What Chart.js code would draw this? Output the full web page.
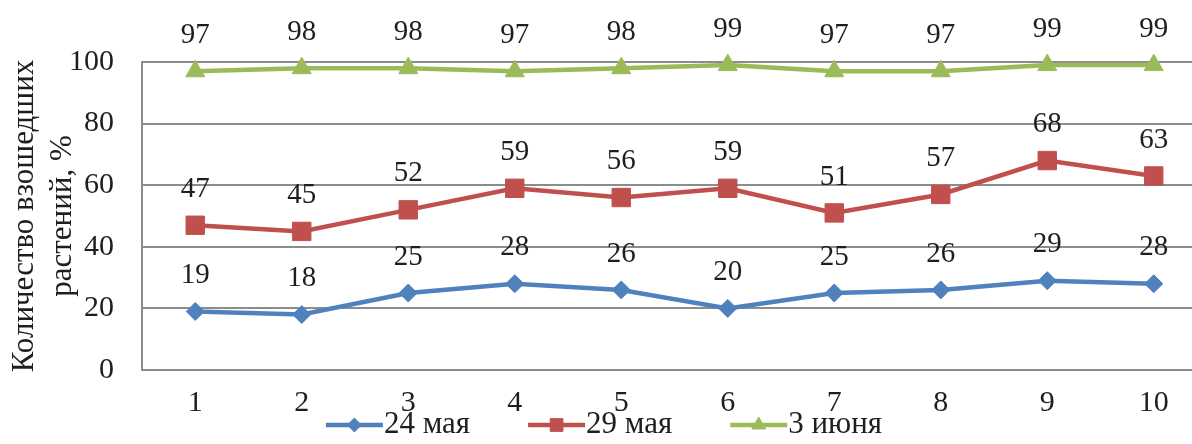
<!DOCTYPE html>
<html>
<head>
<meta charset="utf-8">
<script src="https://cdn.jsdelivr.net/npm/chart.js@4.4.1/dist/chart.umd.min.js"></script>
<style>
  html, body { margin: 0; padding: 0; background: #ffffff; overflow: hidden; }
  #wrap { width: 1221px; height: 444px; }
</style>
</head>
<body>
<div id="wrap"><canvas id="c" width="1221" height="444"></canvas></div>
<script>
// Plot numbers 1..10 and seedling emergence on three dates
const categories = ['1', '2', '3', '4', '5', '6', '7', '8', '9', '10'];
const may24  = [19, 18, 25, 28, 26, 20, 25, 26, 29, 28];
const may29  = [47, 45, 52, 59, 56, 59, 51, 57, 68, 63];
const june3  = [97, 98, 98, 97, 98, 99, 97, 97, 99, 99];
const seriesNames = ['24 мая', '29 мая', '3 июня'];
const yTicks = [0, 20, 40, 60, 80, 100];
const yTitle = ['Количество взошедших', 'растений, %'];

const FONT = "'Liberation Serif', 'Times New Roman', serif";
const TEXT = '#1e1e1e';
const GRID = '#8c8c8c';
const COLORS = ['#4F81BD', '#C0504D', '#9BBB59'];
const MARKERS = ['rectRot', 'rect', 'triangle'];
const RADII = [9, 13, 11];
const LEGEND_RADII = [7, 9, 8];

function makeSeries(i, values) {
  return {
    label: seriesNames[i],
    data: values,
    borderColor: COLORS[i],
    backgroundColor: COLORS[i],
    borderWidth: 4.5,
    pointStyle: MARKERS[i],
    pointRadius: RADII[i],
    pointBorderWidth: 1,
    pointBackgroundColor: COLORS[i],
    pointBorderColor: COLORS[i],
    tension: 0,
    clip: false
  };
}

// Value captions above every point
const valueLabels = {
  id: 'valueLabels',
  afterDatasetsDraw(chart) {
    const ctx = chart.ctx;
    ctx.save();
    ctx.font = '29px ' + FONT;
    ctx.fillStyle = TEXT;
    ctx.textAlign = 'center';
    ctx.textBaseline = 'middle';
    chart.data.datasets.forEach((ds, i) => {
      chart.getDatasetMeta(i).data.forEach((pt, j) => {
        ctx.fillText(String(ds.data[j]), pt.x, pt.y - 36);
      });
    });
    ctx.restore();
  }
};

// Legend row: line segment with marker, followed by the series name
const lineLegend = {
  id: 'lineLegend',
  afterDraw(chart) {
    const ctx = chart.ctx;
    const y = 425, seg = 57, gap = 58, centerX = 604;
    ctx.save();
    ctx.font = '31px ' + FONT;
    const sets = chart.data.datasets;
    const widths = sets.map(ds => ctx.measureText(ds.label).width);
    const total = widths.reduce((a, w) => a + seg + 1 + w, 0) + gap * (sets.length - 1);
    let x = centerX - total / 2;
    sets.forEach((ds, i) => {
      ctx.strokeStyle = ds.borderColor;
      ctx.lineWidth = 4.5;
      ctx.beginPath();
      ctx.moveTo(x, y);
      ctx.lineTo(x + seg, y);
      ctx.stroke();
      ctx.fillStyle = ds.borderColor;
      ctx.lineWidth = 1;
      Chart.helpers.drawPoint(ctx, {
        pointStyle: ds.pointStyle, radius: LEGEND_RADII[i], borderWidth: 1, rotation: 0
      }, x + seg / 2, y);
      ctx.fillStyle = TEXT;
      ctx.textAlign = 'left';
      ctx.textBaseline = 'middle';
      ctx.fillText(ds.label, x + seg + 1, y);
      x += seg + 1 + widths[i] + gap;
    });
    ctx.restore();
  }
};

new Chart(document.getElementById('c'), {
  type: 'line',
  data: {
    labels: categories,
    datasets: [makeSeries(0, may24), makeSeries(1, may29), makeSeries(2, june3)]
  },
  options: {
    responsive: false,
    animation: false,
    layout: { padding: { top: 62, right: 0, bottom: 0, left: 0 } },
    plugins: {
      legend: { display: false },
      tooltip: { enabled: false }
    },
    scales: {
      x: {
        offset: true,
        grid: { display: false, drawTicks: false },
        border: { display: true, color: GRID, width: 2 },
        ticks: { color: TEXT, font: { family: FONT, size: 30 }, padding: 15, maxRotation: 0 },
        afterFit(scale) { scale.height = 74; }
      },
      y: {
        min: 0,
        max: 100,
        afterBuildTicks(scale) { scale.ticks = yTicks.map(v => ({ value: v })); },
        grid: { color: GRID, lineWidth: 2, drawTicks: false },
        border: { display: true, color: GRID, width: 2 },
        ticks: { color: TEXT, font: { family: FONT, size: 30 }, padding: 28 },
        title: {
          display: true,
          text: yTitle,
          color: TEXT,
          font: { family: FONT, size: 31, lineHeight: 1.22 },
          padding: { top: 6, bottom: 0 }
        },
        afterFit(scale) { scale.width = 142; }
      }
    }
  },
  plugins: [valueLabels, lineLegend]
});
</script>
</body>
</html>
